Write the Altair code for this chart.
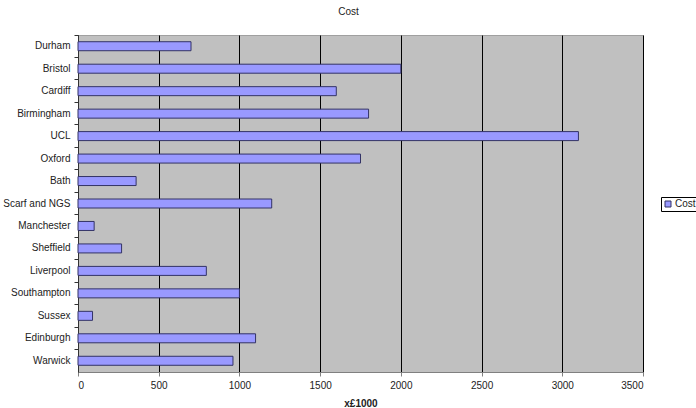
import altair as alt
import pandas as pd

universities = ["Durham", "Bristol", "Cardiff", "Birmingham", "UCL", "Oxford", "Bath",
                "Scarf and NGS", "Manchester", "Sheffield", "Liverpool", "Southampton",
                "Sussex", "Edinburgh", "Warwick"]
cost = [700, 2000, 1600, 1800, 3100, 1750, 360, 1200, 100, 270, 795, 1000, 90, 1100, 960]
x_ticks = [0, 500, 1000, 1500, 2000, 2500, 3000, 3500]

df = pd.DataFrame({"University": universities, "Cost": cost, "Series": ["Cost"] * len(cost)})

FONT = "Liberation Sans"

chart = alt.Chart(df).mark_bar(size=9, stroke="#333366", strokeWidth=1).encode(
    y=alt.Y("University:N", sort=None, title=None,
            scale=alt.Scale(paddingInner=0, paddingOuter=0),
            axis=alt.Axis(bandPosition=0, grid=False, tickSize=4, labelPadding=4,
                          labelFontSize=10, labelFont=FONT, labelColor="#222222",
                          domainColor="#333333", tickColor="#333333")),
    x=alt.X("Cost:Q", title="x£1000",
            scale=alt.Scale(domain=[0, 3500], nice=False),
            axis=alt.Axis(values=x_ticks, format="d", grid=True, gridColor="#000000",
                          gridWidth=1, gridOpacity=1, tickSize=4, labelPadding=4,
                          labelFontSize=10, labelFont=FONT, labelColor="#222222",
                          domainColor="#808080", tickColor="#808080", titleFont=FONT,
                          titleFontSize=10, titleFontWeight="bold", titleColor="#222222",
                          titlePadding=8)),
    color=alt.Color("Series:N", scale=alt.Scale(range=["#9999FF"]),
                    legend=alt.Legend(title=None, orient="none", legendX=583, legendY=162,
                                      strokeColor="#000000", padding=2, symbolType="square",
                                      symbolSize=36, symbolStrokeColor="#333366",
                                      symbolStrokeWidth=1, labelFont=FONT, labelFontSize=10,
                                      labelColor="#222222", symbolOffset=0, labelOffset=2,
                                      fillColor="#FFFFFF")),
).properties(
    width=565, height=337,
    title=alt.TitleParams("Cost", font=FONT, fontSize=10, fontWeight="normal",
                          color="#222222", anchor="middle", dx=-12, offset=18),
    autosize=alt.AutoSizeParams(type="none"),
    padding={"left": 78, "top": 35, "right": 53, "bottom": 36},
    background="#FFFFFF",
).configure_view(fill="#C0C0C0", stroke="#A0A0A0")

chart.save("out.html", embed_options={"renderer": "svg", "actions": False})
